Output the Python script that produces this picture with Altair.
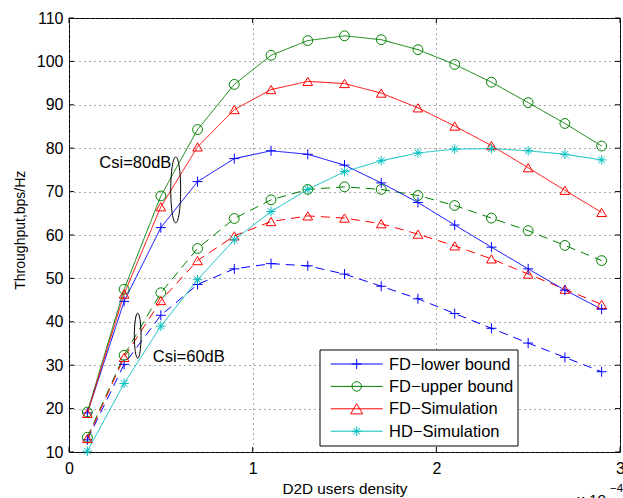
import altair as alt
import pandas as pd

# ---------------- data (x in units of 10^-4) ----------------
X_DENSITY = [0.1, 0.3, 0.5, 0.7, 0.9, 1.1, 1.3, 1.5, 1.7, 1.9, 2.1, 2.3, 2.5, 2.7, 2.9]

SERIES = ["FD\u2212lower bound", "FD\u2212upper bound", "FD\u2212Simulation", "HD\u2212Simulation"]
COLORS = ["#0000ff", "#008000", "#ff0000", "#00bfbf"]

# Csi = 80 dB (solid)
LOWER_80 = [19.0, 44.7, 61.7, 72.3, 77.6, 79.4, 78.6, 76.1, 72.0, 67.5, 62.3, 57.2, 52.2, 47.3, 42.9]
UPPER_80 = [19.2, 47.5, 69.0, 84.3, 94.7, 101.4, 104.8, 105.9, 105.0, 102.7, 99.3, 95.2, 90.5, 85.7, 80.5]
SIM_80 = [18.9, 46.4, 66.5, 80.3, 88.9, 93.5, 95.4, 94.9, 92.7, 89.3, 85.1, 80.6, 75.5, 70.3, 65.2]
# Csi = 60 dB (dashed)
LOWER_60 = [12.8, 30.2, 41.5, 48.6, 52.2, 53.4, 52.9, 51.0, 48.2, 45.3, 41.9, 38.5, 35.1, 31.8, 28.5]
UPPER_60 = [13.4, 32.3, 46.7, 56.9, 63.8, 68.1, 70.5, 71.1, 70.5, 69.1, 66.8, 63.9, 61.0, 57.6, 54.1]
SIM_60 = [13.1, 31.8, 44.9, 54.1, 59.8, 63.1, 64.4, 63.9, 62.6, 60.2, 57.5, 54.5, 51.0, 47.5, 44.0]
# Half duplex
HD_SIM = [10.2, 25.8, 39.0, 49.7, 58.9, 65.4, 70.5, 74.6, 77.1, 78.9, 79.8, 79.9, 79.4, 78.6, 77.3]

Y_TICKS = [10, 20, 30, 40, 50, 60, 70, 80, 90, 100, 110]
X_TICKS = [0, 1, 2, 3]

ANNOT_TEXT = ["Csi=80dB", "Csi=60dB"]
ANNOT_X = [0.165, 0.456]
ANNOT_Y = [76.7, 31.8]
ELLIPSE_X = [0.581, 0.374]
ELLIPSE_Y = [70.4, 36.8]
ELLIPSE_SIZE = [4356, 2025]

# ---------------- styles ----------------
W, H = 551, 434
FONT = "Liberation Sans"
PLUS = "M-1,0H1M0,-1V1"
CIRCLE = "M1,0A1,1 0 1 1 -1,0A1,1 0 1 1 1,0Z"
TRI = "M0,-0.85L1,0.85L-1,0.85Z"
STAR = "M-1,0H1M0,-1V1M-0.7,-0.7L0.7,0.7M-0.7,0.7L0.7,-0.7"
SHAPES = [PLUS, CIRCLE, TRI, STAR]
SIZES = [100, 90, 144, 90]
ELLIPSE = "M0,-1A0.15,1 0 1 1 0,1A0.15,1 0 1 1 0,-1Z"

rows = []
for name, dash, ys in [
    (SERIES[0], "dashed", LOWER_60), (SERIES[1], "dashed", UPPER_60), (SERIES[2], "dashed", SIM_60),
    (SERIES[0], "solid", LOWER_80), (SERIES[1], "solid", UPPER_80), (SERIES[2], "solid", SIM_80),
    (SERIES[3], "solid", HD_SIM),
]:
    for x, y in zip(X_DENSITY, ys):
        rows.append({"series": name, "dash": dash, "key": name + dash, "x": x, "y": y})
df = pd.DataFrame(rows)

color = alt.Color("series:N", scale=alt.Scale(domain=SERIES, range=COLORS), legend=None)

xscale = alt.Scale(domain=[0, 3], nice=False, zero=False)
yscale = alt.Scale(domain=[10, 110], nice=False, zero=False)

x_axis = alt.Axis(values=X_TICKS, format="d", grid=True, gridDash=[1, 4], gridColor="#555",
                  gridWidth=1, domain=False, ticks=False, tickSize=0, labelPadding=21,
                  labelBaseline="alphabetic", labelFlush=False, labelOverlap=False,
                  labelFontSize=16, labelColor="black", labelFont=FONT, title="D2D users density",
                  titleFontSize=15.3, titleFontWeight="normal", titleColor="black", titleFont=FONT,
                  titleBaseline="alphabetic", titleX=W / 2, titleY=41)
y_axis = alt.Axis(values=Y_TICKS, grid=True, gridDash=[1, 4], gridColor="#555", gridWidth=1,
                  domain=False, ticks=False, tickSize=0, labelPadding=6, labelFontSize=16,
                  labelColor="black", labelOverlap=False, labelFlush=False, labelFont=FONT,
                  title="Throughput,bps/Hz", titleFontSize=14, titleFontWeight="normal",
                  titleColor="black", titleFont=FONT, titleBaseline="alphabetic",
                  titleX=-44.7, titleY=211.7, titleAngle=-90)


def X(field):
    return alt.X(field, scale=xscale, axis=x_axis, title="D2D users density")


def Y(field):
    return alt.Y(field, scale=yscale, axis=y_axis, title="Throughput,bps/Hz")


lines = alt.Chart(df).mark_line(strokeWidth=1).encode(
    x=X("x:Q"), y=Y("y:Q"),
    color=color,
    detail="key:N",
    strokeDash=alt.StrokeDash("dash:N", scale=alt.Scale(domain=["solid", "dashed"], range=[[1, 0], [9, 6]]), legend=None),
)

points = alt.Chart(df).mark_point(filled=False, strokeWidth=1, opacity=1).encode(
    x=X("x:Q"), y=Y("y:Q"),
    color=color,
    shape=alt.Shape("series:N", scale=alt.Scale(domain=SERIES, range=SHAPES), legend=None),
    size=alt.Size("series:N", scale=alt.Scale(domain=SERIES, range=SIZES), legend=None),
)

# inward ticks
ydf = pd.DataFrame({"y": Y_TICKS})
xdf = pd.DataFrame({"x": X_TICKS})
tick_layers = [
    alt.Chart(ydf).mark_rule(color="black", strokeWidth=1).encode(
        y=Y("y:Q"), x=alt.value(0), x2=alt.value(5)),
    alt.Chart(ydf).mark_rule(color="black", strokeWidth=1).encode(
        y=Y("y:Q"), x=alt.value(W - 5), x2=alt.value(W)),
    alt.Chart(xdf).mark_rule(color="black", strokeWidth=1).encode(
        x=X("x:Q"), y=alt.value(H - 5), y2=alt.value(H)),
    alt.Chart(xdf).mark_rule(color="black", strokeWidth=1).encode(
        x=X("x:Q"), y=alt.value(0), y2=alt.value(5)),
]

adf = pd.DataFrame({"t": ANNOT_TEXT, "x": ANNOT_X, "y": ANNOT_Y})
annot = alt.Chart(adf).mark_text(align="left", baseline="middle", fontSize=16.5, font=FONT, color="black").encode(
    x=X("x:Q"), y=Y("y:Q"), text="t:N")

edf = pd.DataFrame({"x": ELLIPSE_X, "y": ELLIPSE_Y, "s": ELLIPSE_SIZE})
ellipses = alt.Chart(edf).mark_point(shape=ELLIPSE, filled=False, color="black", strokeWidth=1, opacity=1).encode(
    x=X("x:Q"), y=Y("y:Q"),
    size=alt.Size("s:Q", scale=None, legend=None))

# legend (manual, MATLAB style)
leg_layers = [
    alt.Chart(pd.DataFrame({"a": [0]})).mark_rect(fill="white", stroke="black", strokeWidth=1).encode(
        x=alt.value(251), x2=alt.value(449), y=alt.value(332), y2=alt.value(428))
]
for i, (name, col, shp, sz) in enumerate(zip(SERIES, COLORS, SHAPES, SIZES)):
    yy = 346 + i * 22.4
    one = pd.DataFrame({"label": [name]})
    leg_layers.append(alt.Chart(one).mark_rule(color=col, strokeWidth=1).encode(
        x=alt.value(261.7), x2=alt.value(313.7), y=alt.value(yy)))
    leg_layers.append(alt.Chart(one).mark_point(shape=shp, size=sz, filled=False, color=col, strokeWidth=1, opacity=1).encode(
        x=alt.value(287.7), y=alt.value(yy)))
    leg_layers.append(alt.Chart(one).mark_text(align="left", baseline="middle", fontSize=16.5, font=FONT, color="black").encode(
        x=alt.value(320), y=alt.value(yy + 0.5), text="label:N"))

expo = [
    alt.Chart(pd.DataFrame({"t": ["x 10"]})).mark_text(align="left", baseline="alphabetic", fontSize=15.3, font=FONT, color="black").encode(
        x=alt.value(508), y=alt.value(487), text="t:N"),
    alt.Chart(pd.DataFrame({"t": ["\u22124"]})).mark_text(align="left", baseline="alphabetic", fontSize=11.5, font=FONT, color="black").encode(
        x=alt.value(541), y=alt.value(473.7), text="t:N"),
]

chart = alt.layer(lines, points, *tick_layers, annot, ellipses, *leg_layers, *expo).properties(
    width=W, height=H,
    padding={"left": 69, "top": 18, "right": 3, "bottom": 46},
    autosize=alt.AutoSizeParams(type="none"),
    background="white",
).configure(font=FONT).configure_view(stroke="black", strokeWidth=1)

chart.save("out.html", embed_options={"renderer": "svg", "actions": False})
